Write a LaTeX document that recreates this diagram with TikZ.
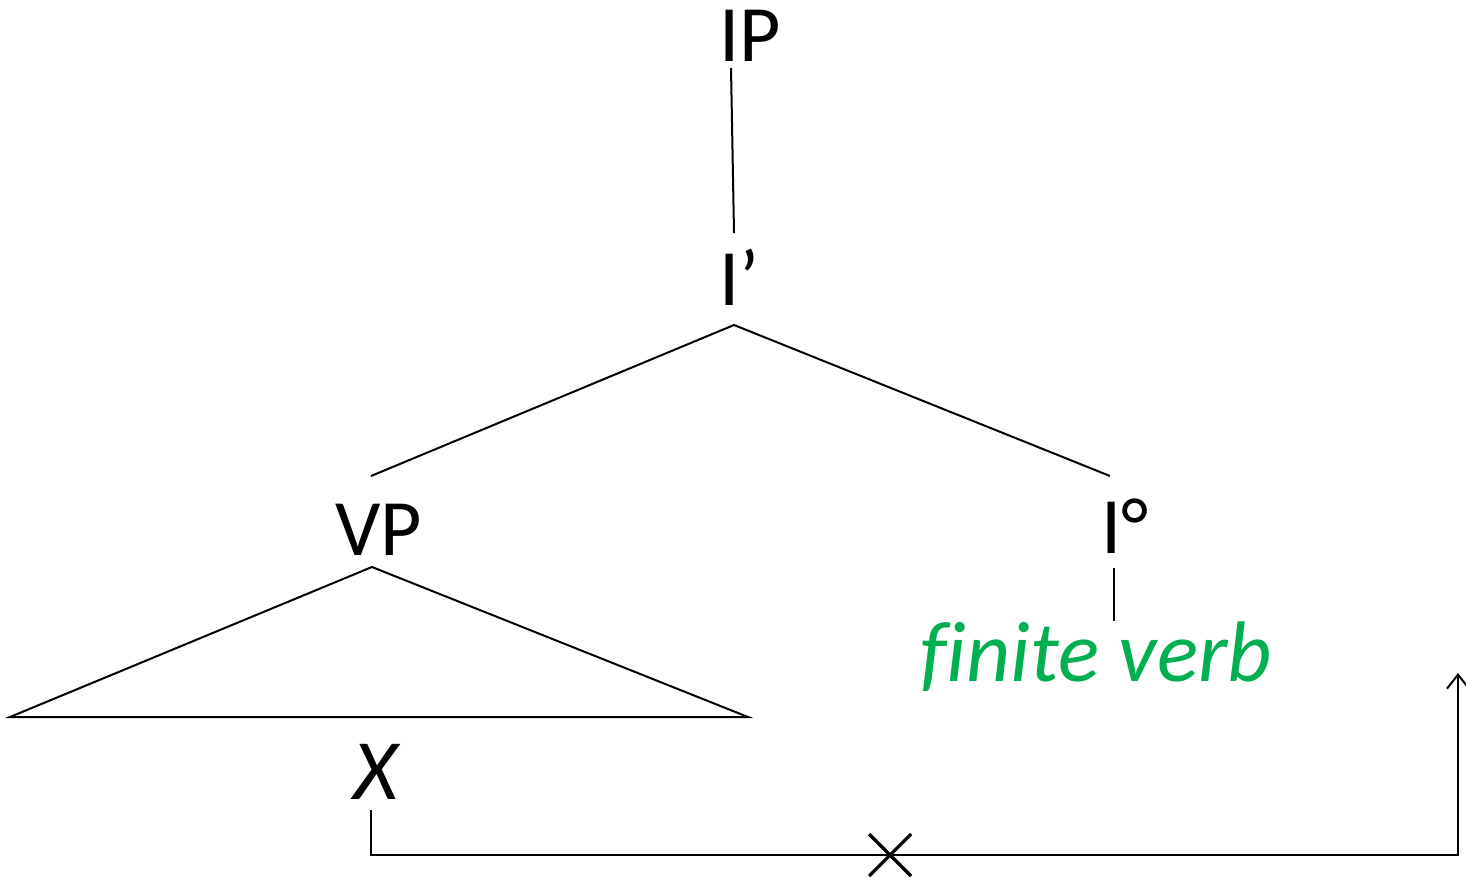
\documentclass[tikz,border=0pt]{standalone}
\usepackage{fontspec}
\setmainfont{Carlito}
\usetikzlibrary{arrows.meta}
\definecolor{offgreen}{RGB}{0,176,80}
\tikzset{
  lbl/.style={inner sep=0pt, anchor=base west, font=\fontsize{40}{48}\selectfont},
  ilbl/.style={lbl, font=\fontsize{43}{50}\selectfont\itshape},
  edge/.style={line width=1pt, black},
}
\begin{document}
\begin{tikzpicture}[x=0.5pt,y=-0.5pt]
\useasboundingbox (0,0) rectangle (1466,877);
% labels
\node[lbl] (ip) at (719,62) {IP};
\node[lbl] (ibar) at (719,305) {I’};
\node[lbl] (vp) at (335,555) {VP};
\node[lbl] (i0) at (1101,553) {I°};
\node[ilbl, text=offgreen] (fv) at (920,681) {f\kern0pt inite verb};
\node[ilbl] (x) at (353,799) {X};
% connector end points
\coordinate (ipb) at (731,68);
\coordinate (ibt) at (734,233);
\coordinate (ibb) at (734,325);
\coordinate (vpt) at (371,476);
\coordinate (i0t) at (1110,476);
\coordinate (vpb) at (372,567);
\coordinate (tl) at (10,717);
\coordinate (tr) at (748,717);
\coordinate (i0b) at (1114,568);
\coordinate (fvt) at (1114,621);
\coordinate (xb) at (371,810);
\coordinate (c1) at (371,855);
\coordinate (c2) at (1458,855);
\coordinate (c3) at (1458,673);
\coordinate (cross) at (890,855);
% edges
\draw[edge] (ipb) -- (ibt);
\draw[edge] (vpt) -- (ibb) -- (i0t);
\draw[edge] (tl) -- (vpb) -- (tr) -- cycle;
\draw[edge] (i0b) -- (fvt);
\draw[edge, -{Straight Barb[length=7pt,width=11pt,line width=1pt]}] (xb) -- (c1) -- (c2) -- (c3);
\draw[line width=1.6pt] ([shift={(-21,-21)}]cross) -- ([shift={(21,21)}]cross)
  ([shift={(-21,21)}]cross) -- ([shift={(21,-21)}]cross);
\end{tikzpicture}
\end{document}
